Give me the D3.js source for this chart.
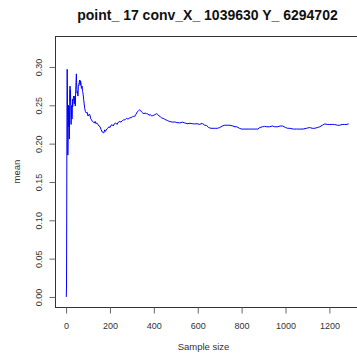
<!DOCTYPE html>
<html>
<head>
<meta charset="utf-8">
<script src="https://cdn.jsdelivr.net/npm/d3@7"></script>
<style>
  html, body { margin: 0; padding: 0; background: #fff; }
  svg { display: block; font-family: "Liberation Sans", Arial, sans-serif; }
</style>
</head>
<body>
<svg id="chart" width="357" height="359"></svg>
<script>
// ---- data ----
const titleText = "point_ 17 conv_X_ 1039630 Y_ 6294702";
const xLabel = "Sample size";
const yLabel = "mean";
const xTicks = [0, 200, 400, 600, 800, 1000, 1200];
const yTicks = [0.00, 0.05, 0.10, 0.15, 0.20, 0.25, 0.30];
const yDataRange = [0, 0.3273];

const sampleSize = [
  1, 2, 3, 4, 5, 6, 7, 8, 9, 10,
  11, 12, 13, 14, 15, 16, 17, 18, 19, 20,
  21, 22, 23, 24, 25, 26, 27, 28, 29, 30,
  32, 34, 36, 38, 40, 42, 44, 46, 47, 48,
  50, 52, 54, 56, 58, 60, 62, 64, 66, 68,
  70, 73, 75, 77, 80, 82, 85, 88, 92, 96,
  100, 104, 108, 112, 116, 120, 124, 128, 132, 136,
  140, 145, 150, 155, 160, 165, 168, 172, 176, 180,
  185, 190, 195, 200, 205, 210, 215, 220, 226, 232,
  238, 245, 250, 256, 262, 268, 275, 282, 290, 296,
  302, 308, 313, 318, 322, 326, 330, 335, 340, 345,
  349, 355, 360, 366, 372, 378, 384, 390, 395, 400,
  406, 412, 418, 424, 430, 436, 442, 448, 455, 463,
  470, 478, 485, 495, 505, 518, 530, 541, 552, 565,
  575, 586, 597, 609, 615, 623, 632, 641, 650, 660,
  670, 680, 690, 700, 712, 723, 735, 746, 760, 770,
  778, 790, 800, 814, 830, 846, 860, 874, 883, 895,
  905, 915, 928, 940, 951, 965, 975, 987, 1000, 1010,
  1019, 1035, 1050, 1065, 1080, 1095, 1110, 1122, 1133, 1145,
  1156, 1168, 1179, 1190, 1201, 1213, 1224, 1236, 1247, 1258,
  1270, 1280, 1288
];
const meanValue = [
  0.000, 0.013, 0.120, 0.250, 0.297, 0.270, 0.230, 0.185, 0.200, 0.235,
  0.250, 0.222, 0.248, 0.230, 0.206, 0.240, 0.265, 0.275, 0.255, 0.270,
  0.250, 0.238, 0.225, 0.240, 0.236, 0.250, 0.232, 0.245, 0.258, 0.248,
  0.255, 0.262, 0.260, 0.252, 0.262, 0.249, 0.270, 0.285, 0.291, 0.280,
  0.266, 0.268, 0.262, 0.275, 0.277, 0.280, 0.283, 0.276, 0.282, 0.279,
  0.272, 0.275, 0.268, 0.266, 0.258, 0.253, 0.246, 0.242, 0.240, 0.241,
  0.236, 0.238, 0.238, 0.233, 0.231, 0.229, 0.228, 0.227, 0.229, 0.226,
  0.227, 0.225, 0.223, 0.222, 0.218, 0.215, 0.2147, 0.214, 0.218, 0.216,
  0.219, 0.220, 0.222, 0.221, 0.224, 0.2247, 0.223, 0.226, 0.227, 0.225,
  0.228, 0.229, 0.228, 0.230, 0.231, 0.231, 0.233, 0.232, 0.2335, 0.234,
  0.235, 0.2356, 0.2356, 0.238, 0.240, 0.242, 0.243, 0.244, 0.243, 0.241,
  0.240, 0.239, 0.240, 0.239, 0.239, 0.237, 0.238, 0.236, 0.2365, 0.237,
  0.238, 0.239, 0.238, 0.236, 0.235, 0.2335, 0.233, 0.232, 0.231, 0.230,
  0.229, 0.2285, 0.228, 0.2283, 0.2275, 0.227, 0.228, 0.227, 0.226, 0.2265,
  0.226, 0.2257, 0.226, 0.225, 0.226, 0.226, 0.224, 0.2235, 0.221, 0.220,
  0.220, 0.220, 0.220, 0.221, 0.223, 0.224, 0.224, 0.224, 0.223, 0.222,
  0.222, 0.220, 0.219, 0.219, 0.219, 0.219, 0.219, 0.219, 0.221, 0.222,
  0.2225, 0.222, 0.222, 0.223, 0.222, 0.222, 0.223, 0.223, 0.221, 0.220,
  0.220, 0.219, 0.219, 0.219, 0.219, 0.220, 0.221, 0.220, 0.220, 0.221,
  0.222, 0.224, 0.2257, 0.225, 0.225, 0.225, 0.225, 0.224, 0.224, 0.225,
  0.225, 0.225, 0.226
];

// ---- layout ----
const plot = { left: 55, top: 36, right: 360, bottom: 307 };
const svg = d3.select("#chart");

const n0 = d3.min(sampleSize), n1 = d3.max(sampleSize);
const xPad = 0.04 * (n1 - n0);
const x = d3.scaleLinear().domain([n0 - xPad, n1 + xPad]).range([plot.left, plot.right]);
const yPad = 0.04 * (yDataRange[1] - yDataRange[0]);
const y = d3.scaleLinear().domain([yDataRange[0] - yPad, yDataRange[1] + yPad]).range([plot.bottom, plot.top]);

// line
const pts = sampleSize.map((s, i) => [s, meanValue[i]]);
svg.append("path")
  .datum(pts)
  .attr("fill", "none")
  .attr("stroke", "#0000ff")
  .attr("stroke-width", 1)
  .attr("d", d3.line().x(d => x(d[0])).y(d => y(d[1])));

// box
svg.append("rect")
  .attr("x", plot.left + 0.5).attr("y", plot.top + 0.5)
  .attr("width", plot.right - plot.left).attr("height", plot.bottom - plot.top)
  .attr("fill", "none").attr("stroke", "#333").attr("stroke-width", 1);

// x axis
const xAxis = d3.axisBottom(x).tickValues(xTicks).tickSize(6).tickPadding(9)
  .tickFormat(d3.format("d"));
const gx = svg.append("g").attr("transform", `translate(0,${plot.bottom + 0.5})`).call(xAxis);
gx.select(".domain").remove();
gx.selectAll(".tick line").attr("stroke", "#666");
gx.selectAll(".tick text").attr("fill", "#333").style("font-size", "9px")
  .style("font-family", "Liberation Sans, Arial, sans-serif");

// y axis
const yAxis = d3.axisLeft(y).tickValues(yTicks).tickSize(6).tickFormat(d3.format(".2f"));
const gy = svg.append("g").attr("transform", `translate(${plot.left + 0.5},0)`).call(yAxis);
gy.select(".domain").remove();
gy.selectAll(".tick line").attr("stroke", "#666");
gy.selectAll(".tick text")
  .attr("fill", "#333").style("font-size", "9px")
  .style("font-family", "Liberation Sans, Arial, sans-serif")
  .attr("x", null).attr("dy", null)
  .attr("text-anchor", "middle")
  .attr("transform", "translate(-14,0) rotate(-90)");

// title
svg.append("text")
  .attr("x", (plot.left + plot.right) / 2).attr("y", 19.5)
  .attr("text-anchor", "middle")
  .style("font-size", "14px").style("font-weight", "bold")
  .attr("fill", "#111")
  .text(titleText);

// axis labels
svg.append("text")
  .attr("x", (plot.left + plot.right) / 2 - 4).attr("y", 350)
  .attr("text-anchor", "middle")
  .style("font-size", "9.5px").attr("fill", "#333")
  .text(xLabel);

svg.append("text")
  .attr("transform", `translate(20,${(plot.top + plot.bottom) / 2}) rotate(-90)`)
  .attr("text-anchor", "middle")
  .style("font-size", "9.5px").attr("fill", "#333")
  .text(yLabel);
</script>
</body>
</html>
